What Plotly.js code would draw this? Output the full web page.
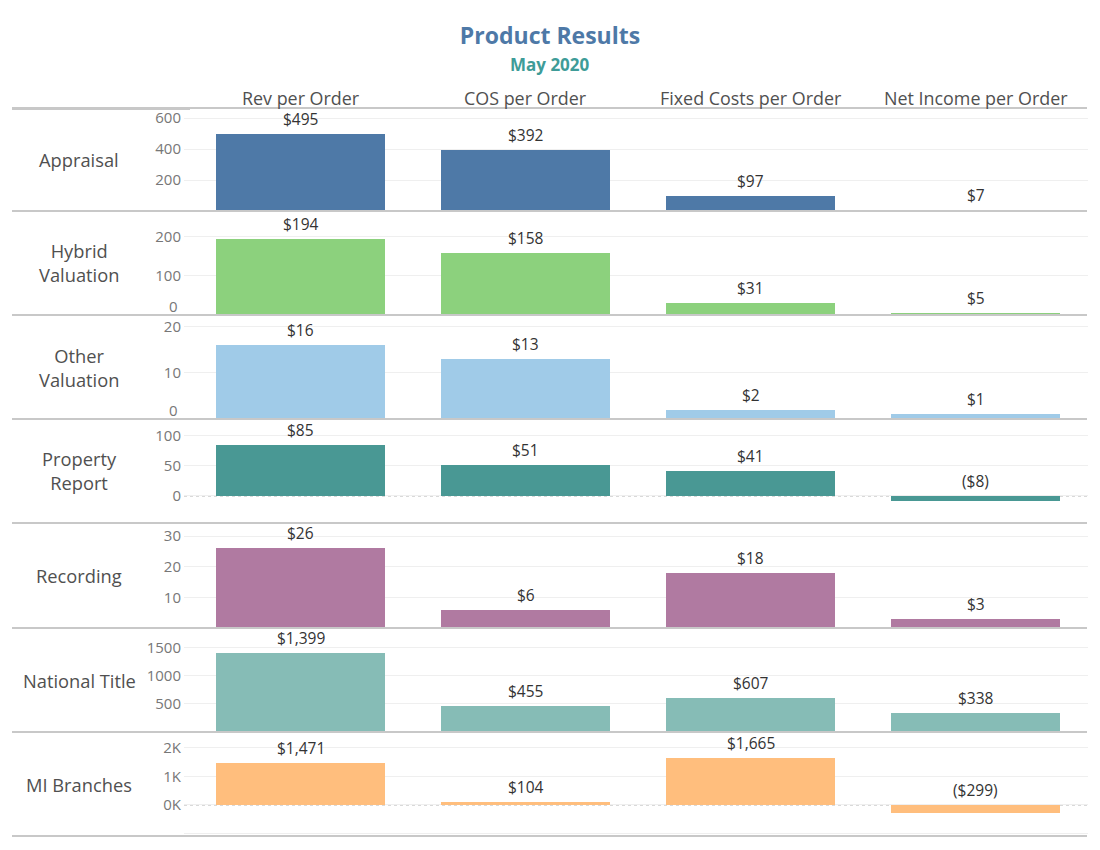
<!DOCTYPE html>
<html><head><meta charset="utf-8">
<script src="https://cdn.plot.ly/plotly-3.0.1.min.js"></script>
<style>html,body{margin:0;padding:0;background:#fff}</style>
</head><body>
<div id="chart" style="width:1100px;height:850px"></div>
<script>
// ---- data ----
const metrics = ['Rev per Order', 'COS per Order', 'Fixed Costs per Order', 'Net Income per Order'];
const products = ['Appraisal', 'Hybrid<br>Valuation', 'Other<br>Valuation', 'Property<br>Report', 'Recording', 'National Title', 'MI Branches'];
const appraisal = [495, 392, 97, 7];
const hybridValuation = [194, 158, 31, 5];
const otherValuation = [16, 13, 2, 1];
const propertyReport = [85, 51, 41, -8];
const recording = [26, 6, 18, 3];
const nationalTitle = [1399, 455, 607, 338];
const miBranches = [1471, 104, 1665, -299];

const appraisalTicks = [200, 400, 600];
const hybridTicks = [0, 100, 200];
const otherTicks = [0, 10, 20];
const propertyTicks = [0, 50, 100];
const recordingTicks = [10, 20, 30];
const nationalTicks = [500, 1000, 1500];
const miTicks = [-1000, 0, 1000, 2000];
const miTickLabels = ['', '0K', '1K', '2K'];

// ---- styling / layout ----
const rowValues = [appraisal, hybridValuation, otherValuation, propertyReport, recording, nationalTitle, miBranches];
const rowTicks = [appraisalTicks, hybridTicks, otherTicks, propertyTicks, recordingTicks, nationalTicks, miTicks];
const rowTickText = [null, null, null, null, null, null, miTickLabels];
const colors = ['#4e79a7', '#8cd17d', '#a0cbe8', '#499894', '#b07aa1', '#86bcb6', '#ffbe7d'];
const yRanges = [[0, 665], [0, 265], [0, 22.5], [-45, 128], [0, 34.3], [0, 1850], [-1090, 2560]];
const rowEdges = [108, 211, 315, 419, 523, 628, 732, 836];
const W = 1100, H = 850;
const FONT = 'Open Sans, sans-serif';
const px2y = p => 1 - p / H;
const px2x = p => p / W;

function fmt(v) {
  const s = '$' + Math.abs(v).toLocaleString('en-US');
  return v < 0 ? '(' + s + ')' : s;
}

const traces = [];
const layout = {
  width: W, height: H,
  margin: {l: 0, r: 0, t: 0, b: 0},
  paper_bgcolor: '#fff', plot_bgcolor: 'rgba(0,0,0,0)',
  showlegend: false, hovermode: false,
  font: {family: FONT, color: '#555'},
  bargap: 0,
  title: {
    text: 'Product Results',
    font: {family: FONT, size: 23, color: '#4e79a7', weight: 700},
    x: 0.5, xanchor: 'center', xref: 'paper',
    y: px2y(36), yanchor: 'middle', yref: 'container'
  },
  xaxis: {
    domain: [px2x(184), px2x(1088)],
    type: 'category', range: [-0.518, 3.5],
    showgrid: false, zeroline: false, showticklabels: false, showline: false,
    fixedrange: true
  },
  annotations: [],
  shapes: []
};

rowValues.forEach((vals, i) => {
  const yname = i === 0 ? 'y' : 'y' + (i + 1);
  const ykey = i === 0 ? 'yaxis' : 'yaxis' + (i + 1);
  traces.push({
    type: 'bar', x: metrics, y: vals, xaxis: 'x', yaxis: yname,
    width: 0.75, marker: {color: colors[i], line: {width: 0}},
    hoverinfo: 'skip'
  });
  // value labels
  vals.forEach((v, j) => {
    layout.annotations.push({
      text: fmt(v), xref: 'x', yref: yname, x: metrics[j], y: Math.max(v, 0),
      xanchor: 'center', yanchor: 'bottom', yshift: 2, showarrow: false,
      font: {family: FONT, size: 15.5, color: '#333'}
    });
  });
  const ticks = rowTicks[i];
  const ax = {
    domain: [px2y(rowEdges[i + 1]), px2y(rowEdges[i])],
    anchor: 'x', range: yRanges[i], fixedrange: true,
    tickmode: 'array', tickvals: ticks,
    showgrid: true, gridcolor: '#efefef', gridwidth: 1,
    zeroline: false, showline: false, ticks: '',
    ticklabelstandoff: 2,
    tickfont: {family: FONT, size: 15, color: '#777'}
  };
  let tt = rowTickText[i] ? rowTickText[i].slice() : ticks.map(String);
  // a zero label that sits on the row's bottom edge is lifted inside the row
  if (yRanges[i][0] === 0 && ticks[0] === 0) {
    tt[0] = '';
    layout.annotations.push({
      text: '0', xref: 'paper', yref: yname, x: px2x(180), y: 0,
      xanchor: 'right', yanchor: 'middle', yshift: 9.5, showarrow: false,
      font: {family: FONT, size: 15, color: '#777'}
    });
  }
  ax.ticktext = tt;
  layout[ykey] = ax;
  // row label
  layout.annotations.push({
    text: products[i], xref: 'paper', yref: 'paper',
    x: px2x(79), y: px2y((rowEdges[i] + rowEdges[i + 1]) / 2),
    xanchor: 'center', yanchor: 'middle', showarrow: false,
    font: {family: FONT, size: 18.3, color: '#505050'}
  });
  // dotted zero line where negatives exist
  if (yRanges[i][0] < 0) {
    layout.shapes.push({
      type: 'line', xref: 'paper', yref: yname,
      x0: px2x(184), x1: px2x(1088), y0: 0, y1: 0,
      line: {color: '#a8a8a8', width: 1, dash: 'dot'}, layer: 'below'
    });
  }
});

// column headers
metrics.forEach(m => {
  layout.annotations.push({
    text: m, xref: 'x', yref: 'paper', x: m, y: px2y(98),
    xanchor: 'center', yanchor: 'middle', showarrow: false,
    font: {family: FONT, size: 17.9, color: '#505050'}
  });
});

// subtitle
layout.annotations.push({
  text: '<b>May 2020</b>', xref: 'paper', yref: 'paper', x: 0.5, y: px2y(64),
  xanchor: 'center', yanchor: 'middle', showarrow: false,
  font: {family: FONT, size: 17, color: '#3e9c98'}
});

// row separators
rowEdges.forEach(e => {
  layout.shapes.push({
    type: 'line', xref: 'paper', yref: 'paper',
    x0: px2x(12), x1: px2x(1087), y0: px2y(e), y1: px2y(e),
    line: {color: '#c8c8c8', width: 2}, layer: 'above'
  });
});
// thicker left part of header line
layout.shapes.push({
  type: 'line', xref: 'paper', yref: 'paper',
  x0: px2x(12), x1: px2x(190), y0: px2y(108.5), y1: px2y(108.5),
  line: {color: '#c8c8c8', width: 3}, layer: 'above'
});

Plotly.newPlot('chart', traces, layout, {displayModeBar: false, staticPlot: true});
</script>
</body></html>
